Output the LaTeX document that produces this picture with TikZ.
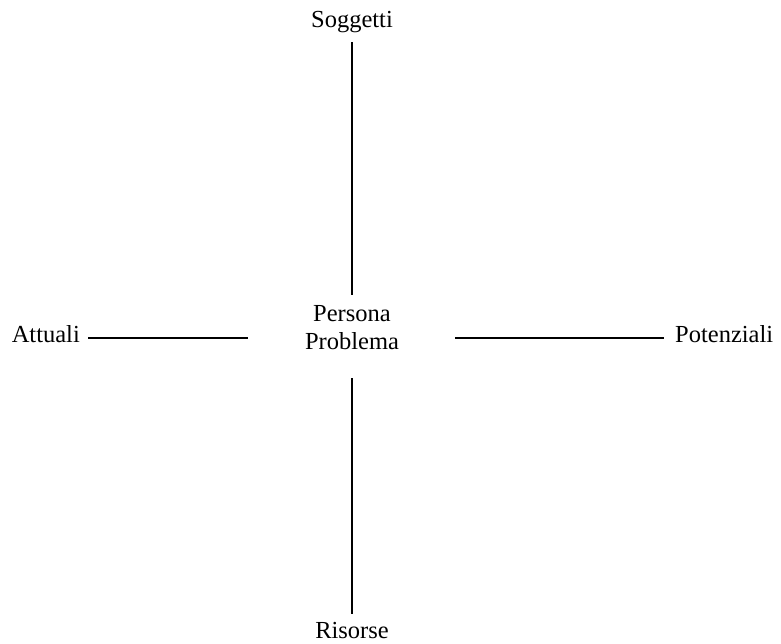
\documentclass[tikz,border=0pt]{standalone}
\usepackage{fontspec}
\setmainfont{Liberation Serif}
\begin{document}
\begin{tikzpicture}[x=1pt,y=-1pt,
  lbl/.style={inner sep=0pt,font=\fontsize{24.5}{28}\selectfont},
  conn/.style={line width=1.7pt,black}]
\useasboundingbox (0,0) rectangle (781,643);
\node[lbl,anchor=base] (sog) at (352,27) {Soggetti};
\node[lbl,anchor=base] (ris) at (352,638) {Risorse};
\node[lbl,anchor=base east] (att) at (80,342) {Attuali};
\node[lbl,anchor=base west] (pot) at (675,342) {Potenziali};
\node[lbl,align=center] (cen) at (352,328) {Persona\\Problema};
\coordinate (hc) at (352,338);
\draw[conn,shorten <=10pt,shorten >=11pt] (sog.south) -- (cen.north);
\draw[conn,shorten <=28pt,shorten >=8pt] (cen.south) -- (ris.north);
\draw[conn,shorten <=8pt,shorten >=57pt] (att.east |- hc) -- (cen.west |- hc);
\draw[conn,shorten <=56pt,shorten >=11pt] (cen.east |- hc) -- (pot.west |- hc);
\end{tikzpicture}
\end{document}
